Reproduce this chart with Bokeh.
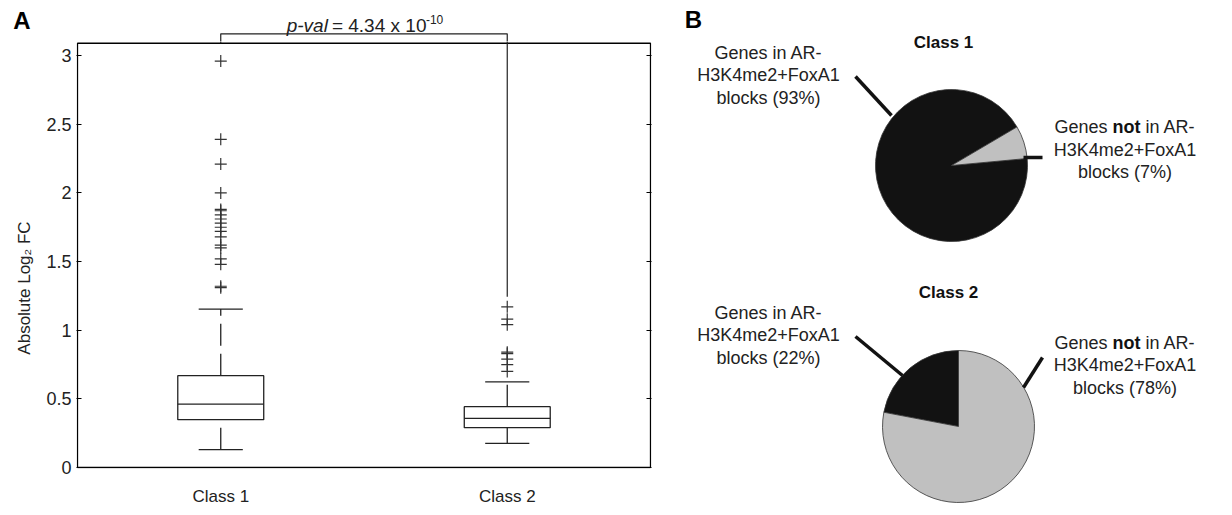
import math
from bokeh.plotting import figure
from bokeh.models import Range1d, FixedTicker, LinearAxis, ColumnDataSource
from bokeh.layouts import row, column
from bokeh.core.properties import value
from bokeh.embed import file_html
from bokeh.resources import INLINE

FONT = "Liberation Sans"

# ---------------- data: panel A (box plot) ----------------
categories = ["Class 1", "Class 2"]
positions = [1, 2]
q1 = [0.348, 0.290]
medians = [0.462, 0.358]
q3 = [0.669, 0.443]
whisker_low = [0.130, 0.176]
whisker_high = [1.154, 0.623]
outliers_class1 = [2.96, 2.39, 2.21, 2.00, 1.88, 1.87, 1.84, 1.81, 1.78, 1.75,
                   1.72, 1.68, 1.62, 1.60, 1.52, 1.48, 1.32, 1.31]
outliers_class2 = [1.17, 1.08, 1.04, 0.84, 0.83, 0.79, 0.75, 0.70]
y_ticks = [0, 0.5, 1, 1.5, 2, 2.5, 3]
y_tick_labels = ["0", "0.5", "1", "1.5", "2", "2.5", "3"]
y_axis_title = "Absolute Log\u2082 FC"
p_value_text = "= 4.34 x 10"
p_value_exp = "-10"
panel_labels = ["A", "B"]

# ---------------- data: panel B (pies) ----------------
pie_titles = ["Class 1", "Class 2"]
frac_in_blocks = [0.93, 0.22]
frac_not_in_blocks = [0.07, 0.78]

# ---------------- style constants ----------------
Y_TOP = 3.09          # top of the box-plot frame
X_PX = 286.5          # pixels per x unit
Y_PX = 137.3          # pixels per y unit
TOP_H = 41            # height of the strip above the frame
BOX_HALF = 0.15
CAP_HALF = 0.077
LW = 1.3
BORDER_L, BORDER_R = 76, 14
W1 = 665
INK = "#222222"


def clean(p):
    p.xgrid.grid_line_color = None
    p.ygrid.grid_line_color = None
    p.outline_line_color = None
    p.background_fill_color = "white"
    p.border_fill_color = "white"


# ================= Panel A: top strip (label, p-value, bracket) =================
pt = figure(width=W1, height=TOP_H,
            x_range=Range1d(0.5 - 1 / X_PX, 2.5 + 1 / X_PX),
            y_range=Range1d(TOP_H, 0),
            output_backend="svg", toolbar_location=None,
            x_axis_type=None, y_axis_type=None,
            min_border_left=BORDER_L, min_border_right=BORDER_R,
            min_border_top=0, min_border_bottom=0)
clean(pt)

# panel letter "A" drawn as the single tick label of a bare left axis
a_axis = LinearAxis(ticker=FixedTicker(ticks=[20]), major_label_overrides={20: panel_labels[0]},
                    major_tick_in=0, major_tick_out=0, minor_tick_line_color=None,
                    axis_line_color=None, major_label_standoff=46,
                    major_label_text_font=FONT, major_label_text_font_size="24px",
                    major_label_text_font_style="bold", major_label_text_color="black")
pt.add_layout(a_axis, "left")

bracket_top_px = 33.3
pt.line(x=[positions[0], positions[0], positions[1], positions[1]],
        y=[TOP_H + 5, bracket_top_px, bracket_top_px, TOP_H + 5],
        line_color=INK, line_width=1.2)
xm = 1.374
pt.text(x=[xm], y=[25], text=["p-val"], text_font=value(FONT), text_font_size="19px",
        text_font_style="italic", text_align="right", text_baseline="alphabetic", text_color=INK)
pt.text(x=[xm + 4 / X_PX], y=[25], text=[p_value_text], text_font=value(FONT), text_font_size="19px",
        text_align="left", text_baseline="alphabetic", text_color=INK)
pt.text(x=[xm + 98 / X_PX], y=[19], text=[p_value_exp], text_font=value(FONT),
        text_font_size="12px", text_align="left", text_baseline="alphabetic", text_color=INK)

# ================= Panel A: box plot =================
p1 = figure(width=W1, height=515 - TOP_H,
            x_range=pt.x_range,
            y_range=Range1d(-1 / Y_PX, (467 - TOP_H) / Y_PX),
            output_backend="svg", toolbar_location=None,
            min_border_left=BORDER_L, min_border_right=BORDER_R,
            min_border_top=0, min_border_bottom=47)
clean(p1)

# y axis (left)
ya = p1.yaxis[0]
ya.ticker = FixedTicker(ticks=y_ticks)
ya.major_label_overrides = {t: l for t, l in zip(y_ticks, y_tick_labels)}
ya.major_tick_in = 5
ya.major_tick_out = 0
ya.minor_tick_line_color = None
ya.axis_line_color = None
ya.major_tick_line_color = "black"
ya.major_label_text_font = FONT
ya.major_label_text_font_size = "18px"
ya.major_label_text_color = INK
ya.major_label_standoff = 5
ya.axis_label = y_axis_title + "\u00a0" * 14
ya.axis_label_text_font = FONT
ya.axis_label_text_font_size = "17px"
ya.axis_label_text_font_style = "normal"
ya.axis_label_text_color = INK
ya.axis_label_standoff = 9

# right axis: tick marks only
ra = LinearAxis(ticker=FixedTicker(ticks=y_ticks), major_tick_in=5, major_tick_out=0,
                minor_tick_line_color=None, axis_line_color=None,
                major_label_overrides={t: "" for t in y_ticks},
                major_label_text_color=None, major_label_standoff=0)
p1.add_layout(ra, "right")

# x axis
xa = p1.xaxis[0]
xa.ticker = FixedTicker(ticks=positions)
xa.major_label_overrides = {p: c for p, c in zip(positions, categories)}
xa.major_tick_in = 0
xa.major_tick_out = 0
xa.minor_tick_line_color = None
xa.axis_line_color = None
xa.major_label_text_font = FONT
xa.major_label_text_font_size = "17px"
xa.major_label_text_color = INK
xa.major_label_standoff = 18

# frame
p1.quad(left=[0.5], right=[2.5], bottom=[0], top=[Y_TOP],
        fill_color=None, line_color="black", line_width=LW)

src = ColumnDataSource(dict(
    pos=positions,
    left=[p - BOX_HALF for p in positions],
    right=[p + BOX_HALF for p in positions],
    capl=[p - CAP_HALF for p in positions],
    capr=[p + CAP_HALF for p in positions],
    q1=q1, q3=q3, med=medians, lo=whisker_low, hi=whisker_high,
))
p1.quad(left="left", right="right", bottom="q1", top="q3", source=src,
        fill_color=None, line_color=INK, line_width=LW)
p1.segment(x0="left", x1="right", y0="med", y1="med", source=src,
           line_color=INK, line_width=LW)
p1.segment(x0="pos", x1="pos", y0="q3", y1="hi", source=src,
           line_color=INK, line_width=LW, line_dash="22 8")
p1.segment(x0="pos", x1="pos", y0="lo", y1="q1", source=src,
           line_color=INK, line_width=LW, line_dash="22 8")
p1.segment(x0="capl", x1="capr", y0="hi", y1="hi", source=src,
           line_color=INK, line_width=LW)
p1.segment(x0="capl", x1="capr", y0="lo", y1="lo", source=src,
           line_color=INK, line_width=LW)

ox = [positions[0]] * len(outliers_class1) + [positions[1]] * len(outliers_class2)
oy = outliers_class1 + outliers_class2
p1.scatter(x=ox, y=oy, marker="cross", size=12, line_color="#333333", line_width=1.2)

# lower part of the significance bracket (continues from the strip above)
p1.segment(x0=[positions[0], positions[1]], x1=[positions[0], positions[1]],
           y0=[Y_TOP, 1.243], y1=[Y_TOP + 0.1, Y_TOP + 0.1],
           line_color=INK, line_width=1.2)

# ================= Panel B =================
W2 = 1232 - W1
p2 = figure(width=W2, height=515, x_range=Range1d(W1, 1232), y_range=Range1d(0, 515),
            output_backend="svg", toolbar_location=None,
            x_axis_type=None, y_axis_type=None,
            min_border_left=0, min_border_right=0, min_border_top=0, min_border_bottom=0)
clean(p2)

H = 515
BLACK = "#121212"
GRAY = "#c0c0c0"
centers = [(951, 165), (958, 426)]
radius = 76
start_in = [30.5, 90.0]

for (cx, cy), fi, fn, s in zip(centers, frac_in_blocks, frac_not_in_blocks, start_in):
    e_in = s + fi * 360
    p2.wedge(x=[cx], y=[H - cy], radius=radius, start_angle=[math.radians(s)],
             end_angle=[math.radians(e_in)],
             fill_color=BLACK, line_color="#333333", line_width=0.8)
    p2.wedge(x=[cx], y=[H - cy], radius=radius, start_angle=[math.radians(e_in)],
             end_angle=[math.radians(e_in + fn * 360)],
             fill_color=GRAY, line_color="#333333", line_width=0.8)

# titles
p2.text(x=[943, 948], y=[H - 42, H - 292], text=pie_titles, text_font=value(FONT),
        text_font_size="17px", text_font_style="bold", text_align="center",
        text_baseline="middle", text_color="#111111")
p2.text(x=[693], y=[H - 19], text=[panel_labels[1]], text_font=value(FONT), text_font_size="24px",
        text_font_style="bold", text_align="center", text_baseline="middle", text_color="black")

# labels
left_tops = [52, 312]
right_tops = [126.5, 342]
LH = 22.5
for t, fi in zip(left_tops, frac_in_blocks):
    lines = ["Genes in AR-", "H3K4me2+FoxA1", f"blocks ({round(fi * 100)}%)"]
    p2.text(x=[768] * 3, y=[H - t, H - t - LH, H - t - 2 * LH], text=lines,
            text_font=value(FONT), text_font_size="18px", text_align="center",
            text_baseline="middle", text_color=INK)

for t, fn in zip(right_tops, frac_not_in_blocks):
    y1 = H - t
    p2.text(x=[1107], y=[y1], text=["Genes"], text_font=value(FONT), text_font_size="18px",
            text_align="right", text_baseline="middle", text_color=INK)
    p2.text(x=[1112], y=[y1], text=["not"], text_font=value(FONT), text_font_size="18px",
            text_font_style="bold", text_align="left", text_baseline="middle", text_color="#111111")
    p2.text(x=[1145], y=[y1], text=["in AR-"], text_font=value(FONT), text_font_size="18px",
            text_align="left", text_baseline="middle", text_color=INK)
    p2.text(x=[1124.5] * 2, y=[y1 - LH, y1 - 2 * LH],
            text=["H3K4me2+FoxA1", f"blocks ({round(fn * 100)}%)"],
            text_font=value(FONT), text_font_size="18px", text_align="center",
            text_baseline="middle", text_color=INK)

# leader lines
p2.segment(x0=[855, 1023, 855, 1042], y0=[H - 76, H - 157, H - 336, H - 357],
           x1=[891, 1042, 902, 1023], y1=[H - 115, H - 157, H - 375, H - 387],
           line_color=BLACK, line_width=3.5)

layout = row(column(pt, p1), p2)
open("out.html", "w").write(file_html(layout, INLINE))
